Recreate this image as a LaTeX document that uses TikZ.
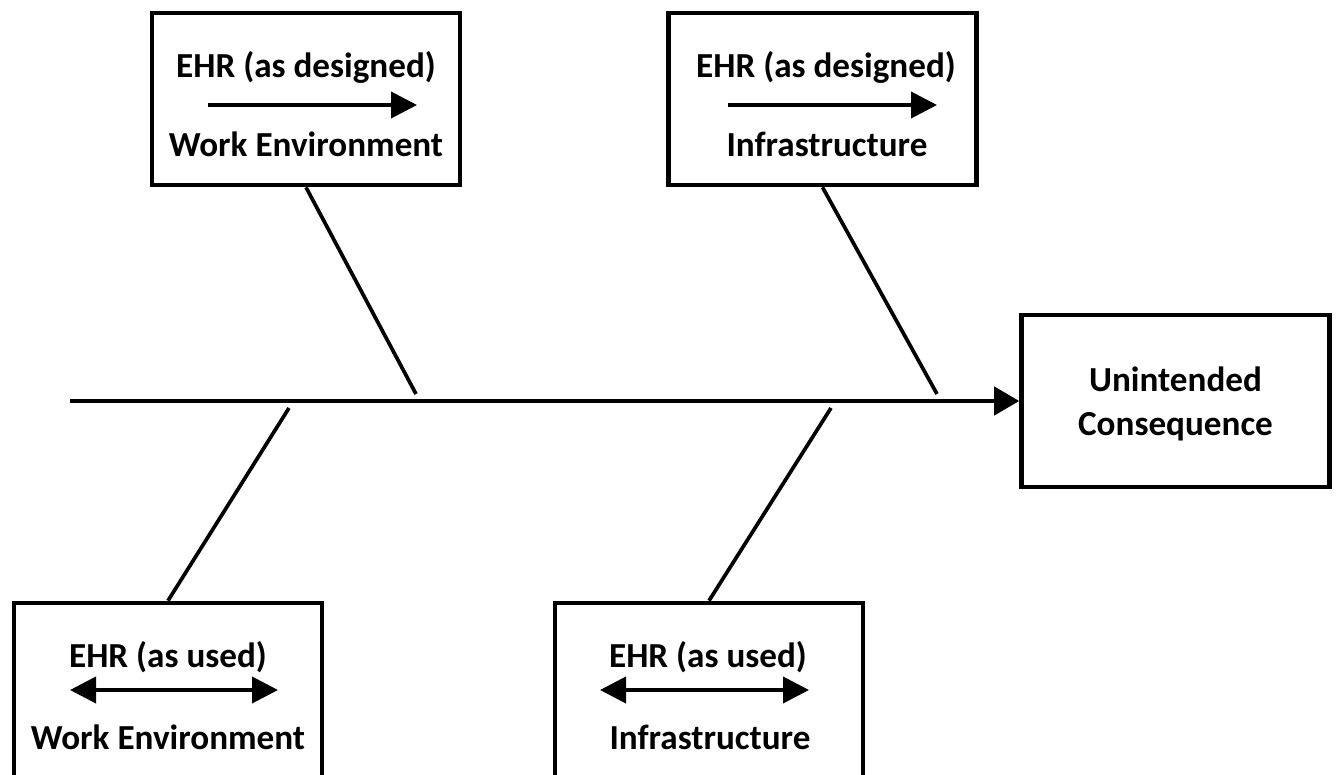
\documentclass[tikz,border=0pt]{standalone}
\usepackage{fontspec}
\setmainfont{Carlito}
\usetikzlibrary{arrows.meta,positioning}

\begin{document}
\begin{tikzpicture}[x=0.2mm,y=-0.2mm,
  every node/.style={font=\bfseries\fontsize{20}{24}\selectfont},
  causebox/.style={draw,line width=2.6pt,minimum width=61.6mm,minimum height=34.4mm,inner sep=0pt},
  lbl/.style={inner sep=0pt},
  bone/.style={line width=2.1pt},
  spine/.style={line width=2.4pt,-{Triangle[length=5mm,width=5.6mm]}},
  oneway/.style={line width=2.2pt,-{Triangle[length=5.2mm,width=5.2mm]}},
  twoway/.style={line width=2.2pt,{Triangle[length=5.2mm,width=5.2mm]}-{Triangle[length=5.2mm,width=5.2mm]}}]
\useasboundingbox (0,0) rectangle (1338,775);
% effect
\node[causebox] (ue) at (1175.5,401) {};
\node[lbl,align=center] (ue1) at (1175.5,404) {Unintended\\[1pt]Consequence};
% causes above the spine
\node[causebox] (tl) at (306,99) {};
\node[lbl] (tl1) at (306,67) {EHR (as designed)};
\node[lbl] (tl2) at (306,144) {Work Environment};
\coordinate (tla) at (208,105);
\coordinate (tlb) at (417,105);
\draw[oneway] (tla) -- (tlb);
\node[causebox] (tr) at (822.5,99) {};
\node[lbl] (tr1) at (826,67) {EHR (as designed)};
\node[lbl] (tr2) at (827,144) {Infrastructure};
\coordinate (tra) at (728,105);
\coordinate (trb) at (937,105);
\draw[oneway] (tra) -- (trb);
% causes below the spine (cut by the lower edge)
\node[causebox,minimum height=38mm] (bl) at (168,698) {};
\node[lbl] (bl1) at (168,657) {EHR (as used)};
\node[lbl] (bl2) at (168,737) {Work Environment};
\coordinate (bla) at (70,690);
\coordinate (blb) at (278,690);
\draw[twoway] (bla) -- (blb);
\node[causebox,minimum height=38mm] (bm) at (709,698) {};
\node[lbl] (bm1) at (708,657) {EHR (as used)};
\node[lbl] (bm2) at (710,737) {Infrastructure};
\coordinate (bma) at (600,690);
\coordinate (bmb) at (809,690);
\draw[twoway] (bma) -- (bmb);
% spine and bones
\coordinate (tail) at (70,401);
\draw[spine] (tail) -- (ue.west);
\coordinate (tlj) at (416,394);
\coordinate (trj) at (937,394);
\coordinate (blj) at (289,408);
\coordinate (bmj) at (831,408);
\draw[bone] (tl.south) -- (tlj);
\draw[bone] (tr.south) -- (trj);
\draw[bone] (bl.north) -- (blj);
\draw[bone] (bm.north) -- (bmj);
\end{tikzpicture}
\end{document}
